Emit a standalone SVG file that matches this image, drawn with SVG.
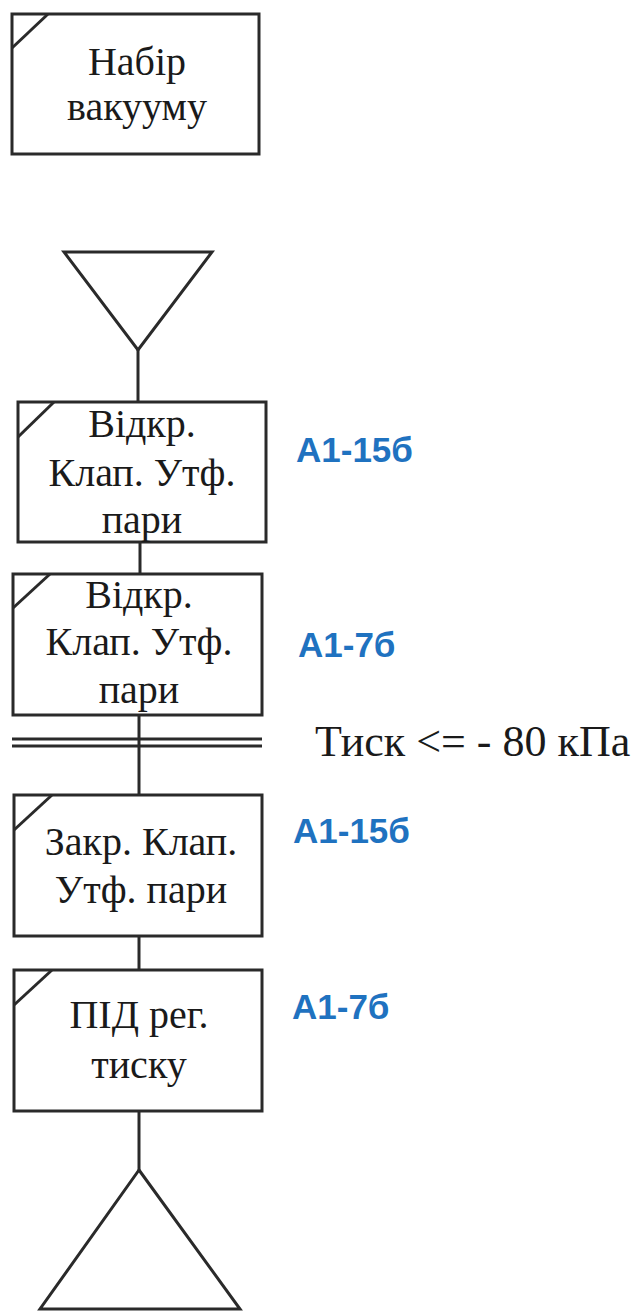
<svg xmlns="http://www.w3.org/2000/svg" width="638" height="1311" viewBox="0 0 638 1311">
  <style>
    .box { fill: #fff; stroke: #2a2a2a; stroke-width: 3; }
    .mark { stroke: #2a2a2a; stroke-width: 3; fill: none; }
    .wire { stroke: #2a2a2a; stroke-width: 3; fill: none; }
    .txt { font-family: "Liberation Serif", "Times New Roman", serif; font-size: 40px; fill: #1a1a1a; text-anchor: middle; }
    .cond { font-family: "Liberation Serif", "Times New Roman", serif; font-size: 44px; fill: #1a1a1a; }
    .tag { font-family: "Liberation Sans", Arial, sans-serif; font-weight: bold; font-size: 35px; fill: #1f72c0; }
  </style>

  <!-- connectors -->
  <g id="connectors">
    <line class="wire" x1="138" y1="350" x2="138" y2="402"/>
    <line class="wire" x1="140" y1="542" x2="140" y2="574"/>
    <line class="wire" x1="139" y1="715" x2="139" y2="795"/>
    <line class="wire" x1="139" y1="936" x2="139" y2="970"/>
    <line class="wire" x1="139" y1="1111" x2="139" y2="1170"/>
  </g>

  <!-- step: vacuum -->
  <g id="step-vacuum">
    <rect class="box" x="12" y="14" width="247" height="140"/>
    <line class="mark" x1="12" y1="48" x2="48" y2="14"/>
    <text class="txt" x="137" y="75">Набір</text>
    <text class="txt" x="137" y="120">вакууму</text>
  </g>

  <!-- start triangle -->
  <g id="start">
    <polygon class="box" points="64,252 212,252 138,350"/>
  </g>

  <!-- step: open valve A1-15б -->
  <g id="step-open-1">
    <rect class="box" x="18" y="402" width="248" height="140"/>
    <line class="mark" x1="18" y1="437" x2="54" y2="402"/>
    <text class="txt" x="142" y="437">Відкр.</text>
    <text class="txt" x="142" y="486">Клап. Утф.</text>
    <text class="txt" x="142" y="533">пари</text>
    <text class="tag" x="296" y="462">A1-15б</text>
  </g>

  <!-- step: open valve A1-7б -->
  <g id="step-open-2">
    <rect class="box" x="13" y="574" width="249" height="141"/>
    <line class="mark" x1="13" y1="608" x2="50" y2="574"/>
    <text class="txt" x="139" y="608">Відкр.</text>
    <text class="txt" x="139" y="655">Клап. Утф.</text>
    <text class="txt" x="139" y="703">пари</text>
    <text class="tag" x="298" y="657">A1-7б</text>
  </g>

  <!-- transition condition -->
  <g id="transition">
    <line class="wire" x1="12" y1="739" x2="262" y2="739"/>
    <line class="wire" x1="12" y1="746" x2="262" y2="746"/>
    <text class="cond" x="315" y="756">Тиск &lt;= - 80 кПа</text>
  </g>

  <!-- step: close valve -->
  <g id="step-close">
    <rect class="box" x="14" y="795" width="248" height="141"/>
    <line class="mark" x1="14" y1="830" x2="52" y2="795"/>
    <text class="txt" x="141" y="855">Закр. Клап.</text>
    <text class="txt" x="141" y="903">Утф. пари</text>
    <text class="tag" x="293" y="843">A1-15б</text>
  </g>

  <!-- step: PID pressure control -->
  <g id="step-pid">
    <rect class="box" x="14" y="970" width="248" height="141"/>
    <line class="mark" x1="14" y1="1005" x2="52" y2="970"/>
    <text class="txt" x="139" y="1028">ПІД рег.</text>
    <text class="txt" x="139" y="1078">тиску</text>
    <text class="tag" x="292" y="1019">A1-7б</text>
  </g>

  <!-- end triangle -->
  <g id="end">
    <polygon class="box" points="139,1170 240,1309 40,1309"/>
  </g>
</svg>
